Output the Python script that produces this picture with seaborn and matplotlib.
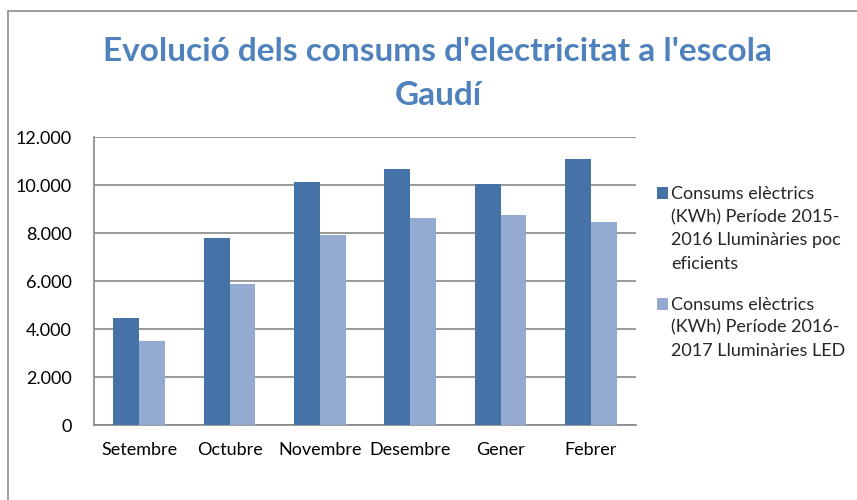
import numpy as np
import pandas as pd
import matplotlib
matplotlib.use("Agg")
import matplotlib.pyplot as plt
import seaborn as sns
from matplotlib.lines import Line2D
from matplotlib.patches import Rectangle
from matplotlib.legend_handler import HandlerPatch
from matplotlib.ticker import FuncFormatter

# dades
mesos = ["Setembre", "Octubre", "Novembre", "Desembre", "Gener", "Febrer"]
serie_1 = "Consums elèctrics\n(KWh) Període 2015-\n2016 Lluminàries poc\neficients"
serie_2 = "Consums elèctrics\n(KWh) Període 2016-\n2017 Lluminàries LED"
consum_2015 = [4470, 7790, 10125, 10670, 10055, 11100]
consum_2016 = [3510, 5890, 7900, 8640, 8765, 8470]

df = pd.DataFrame({
    "Mes": mesos * 2,
    "Serie": [serie_1] * len(mesos) + [serie_2] * len(mesos),
    "Consum": consum_2015 + consum_2016,
})

sns.set_style("white")
plt.rcParams["font.family"] = ["Lato", "DejaVu Sans"]

fig = plt.figure(figsize=(8.57, 5.0), dpi=100)
ax = fig.add_axes([94 / 857, 1 - 425 / 500, (636 - 94) / 857, (425 - 137) / 500])

sns.barplot(data=df, x="Mes", y="Consum", hue="Serie",
            palette=["#4673A7", "#95AAD0"], width=0.57, saturation=1,
            edgecolor="none", ax=ax, zorder=3)

ax.set_ylim(0, 12000)
ax.set_yticks(range(0, 12001, 2000))
ax.yaxis.set_major_formatter(FuncFormatter(lambda v, p: f"{int(v):,}".replace(",", ".")))
ax.grid(axis="y", color="#878787", linewidth=1.2, zorder=0)
ax.set_xlabel("")
ax.set_ylabel("")
for s in ["top", "right"]:
    ax.spines[s].set_visible(False)
for s in ["left", "bottom"]:
    ax.spines[s].set_color("#878787")
    ax.spines[s].set_linewidth(1.2)
ax.tick_params(axis="both", labelsize=13, colors="black", length=0)
ax.tick_params(axis="y", pad=16)
ax.tick_params(axis="x", pad=12)


# quadret de la llegenda alineat amb la primera línia del text
def handler_primera_linia(n_linies):
    pas = 17.3  # separació entre línies en punts
    def f(legend, orig_handle, xdescent, ydescent, width, height, fontsize):
        return Rectangle((-xdescent, -ydescent + (n_linies - 1) / 2 * pas), width, height)
    return HandlerPatch(patch_func=f)


handles, labels = ax.get_legend_handles_labels()
handler_map = {h: handler_primera_linia(l.count("\n") + 1) for h, l in zip(handles, labels)}
leg = ax.legend(handles, labels, handler_map=handler_map,
                loc="upper left", bbox_to_anchor=(1.025, 0.855), frameon=False,
                fontsize=13, handlelength=0.6, handleheight=0.6,
                handletextpad=0.2, labelspacing=1.38, borderaxespad=0)
for t in leg.get_texts():
    t.set_linespacing(1.55)

fig.text(0.511, 0.853, "Evolució dels consums d'electricitat a l'escola\nGaudí",
         ha="center", va="center", fontsize=24, fontweight="bold",
         color="#4F81BD", linespacing=1.6)

# marc del gràfic
fig.add_artist(Line2D([8 / 857, 8 / 857], [0, 1 - 11 / 500], color="#8c8c8c", linewidth=1.2))
fig.add_artist(Line2D([8 / 857, 1], [1 - 11 / 500, 1 - 11 / 500], color="#8c8c8c", linewidth=1.2))

fig.savefig("out.png", dpi=100)
